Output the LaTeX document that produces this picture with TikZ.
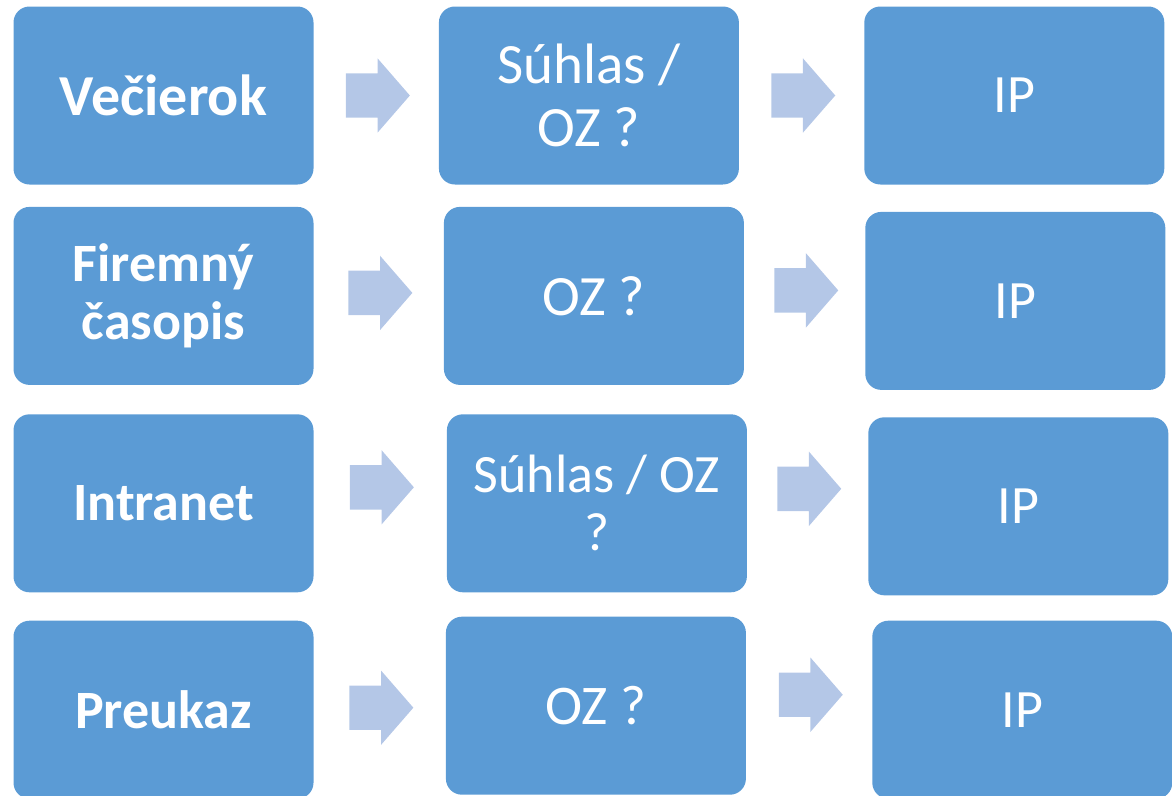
\documentclass[tikz,border=0pt]{standalone}
\usepackage{fontspec}
\setmainfont{Carlito}
\usetikzlibrary{shapes.arrows, positioning, calc}

\definecolor{boxblue}{HTML}{5B9BD5}
\definecolor{arrowblue}{HTML}{B4C7E7}

\begin{document}
\begin{tikzpicture}[
    x=1pt, y=1pt,
    item/.style={rectangle, rounded corners=16pt, minimum width=300pt, minimum height=178pt, inner sep=0pt, text centered, align=center, fill=boxblue, text=white, font=\fontsize{54}{58}\selectfont},
    topic/.style={item, font=\fontsize{54}{58}\selectfont\bfseries},
    flow/.style={single arrow, single arrow head extend=15pt, single arrow tip angle=98, minimum height=64pt, inner xsep=0pt, inner ysep=22pt, xshift=-8pt, fill=arrowblue}
]
\useasboundingbox (0,0) rectangle (1172,-795);

% Row 1
\node (A1) [topic, font=\fontsize{58}{58}\selectfont\bfseries] at (163.5,-95.5) {Večierok};
\node (A2) [item, right=125pt of A1, font=\fontsize{57}{63}\selectfont] {Súhlas /\\OZ ?};
\node (A3) [item, right=125pt of A2] {IP};

% Row 2
\node (B1) [topic, below=22pt of A1] {Firemný\\časopis};
\node (B2) [item, right=130pt of B1, font=\fontsize{57}{58}\selectfont] {OZ ?};
\node (B3) [item, right=121pt of B2, yshift=-5pt] {IP};

% Row 3
\node (C1) [topic, below=29pt of B1] {Intranet};
\node (C2) [item, right=133pt of C1] {Súhlas / OZ\\?};
\node (C3) [item, right=121pt of C2, yshift=-3pt] {IP};

% Row 4
\node (D1) [topic, below=28pt of C1] {Preukaz};
\node (D2) [item, right=132pt of D1, yshift=4pt, font=\fontsize{56}{58}\selectfont] {OZ ?};
\node (D3) [item, right=126pt of D2, yshift=-4pt] {IP};

% Arrows
\node (A12) [flow] at ($(A1.east)!0.5!(A2.west)$) {};
\node (A23) [flow] at ($(A2.east)!0.5!(A3.west)$) {};
\node (B12) [flow, yshift=3pt] at ($(B1.east)!0.5!(B2.west)$) {};
\node (B23) [flow, yshift=8pt] at ($(B2.east)!0.5!(B3.west)$) {};
\node (C12) [flow, yshift=16pt] at ($(C1.east)!0.5!(C2.west)$) {};
\node (C23) [flow, yshift=16pt] at ($(C2.east)!0.5!(C3.west)$) {};
\node (D12) [flow] at ($(D1.east)!0.5!(D2.west)$) {};
\node (D23) [flow, yshift=13pt] at ($(D2.east)!0.5!(D3.west)$) {};

\end{tikzpicture}
\end{document}
